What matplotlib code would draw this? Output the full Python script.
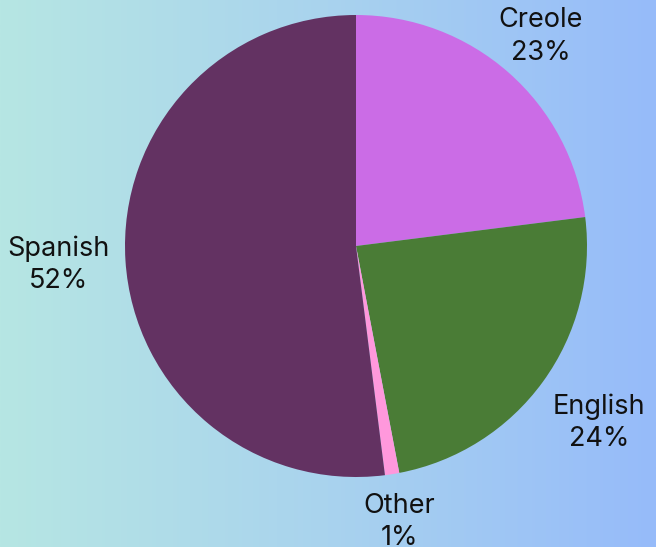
import numpy as np
import matplotlib
matplotlib.use('Agg')
from matplotlib import pyplot as plt
from matplotlib.colors import LinearSegmentedColormap

labels = ['Creole', 'English', 'Other', 'Spanish']
shares = [23, 24, 1, 52]
colors = ['#cb6ce6', '#4a7c36', '#ff98dc', '#633262']
# label distance (in radii) for each slice label
label_dist = [1.21, 1.30, 1.21, 1.29]

plt.rcParams['font.family'] = ['Inter', 'DejaVu Sans']

fig = plt.figure(figsize=(6.56, 5.47), dpi=100)

# background gradient
bg = fig.add_axes([0, 0, 1, 1], zorder=0)
cmap = LinearSegmentedColormap.from_list('bg', ['#b6e6e3', '#a9d3ee', '#96bbfa'])
bg.imshow(np.linspace(0, 1, 256).reshape(1, -1), aspect='auto', cmap=cmap, extent=[0, 1, 0, 1])
bg.axis('off')

ax = fig.add_axes([125/656, 70/547, 462/656, 462/547], zorder=1)
ax.patch.set_alpha(0)
wedges, _ = ax.pie(shares, colors=colors, startangle=90, counterclock=False,
                   radius=1, wedgeprops=dict(linewidth=0))
ax.set_xlim(-1, 1)
ax.set_ylim(-1, 1)
ax.axis('off')

for w, lab, s, d in zip(wedges, labels, shares, label_dist):
    mid = np.deg2rad((w.theta1 + w.theta2) / 2)
    ax.text(d * np.cos(mid), d * np.sin(mid), f'{lab}\n{s}%', ha='center', va='center',
            fontsize=19.5, color='#111111', linespacing=1.32, clip_on=False)

fig.savefig('out.png', dpi=100)
